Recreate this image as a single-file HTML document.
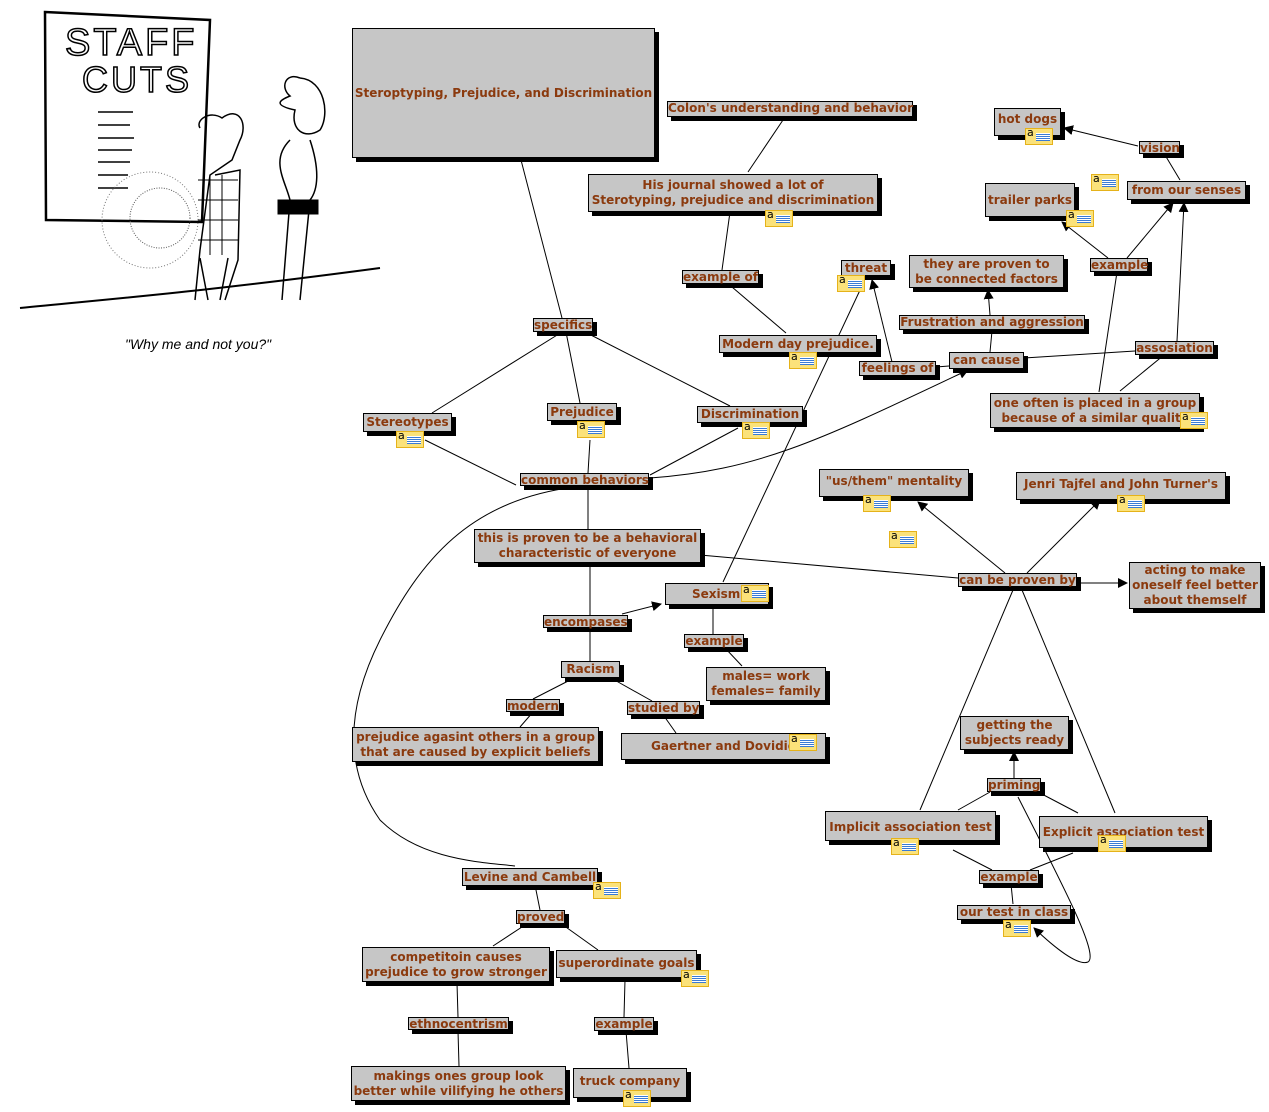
<!DOCTYPE html>
<html><head><meta charset="utf-8">
<style>
body{margin:0;width:1269px;height:1112px;background:#fff;position:relative;overflow:hidden;font-family:"DejaVu Sans","Liberation Sans",sans-serif;}
.n{position:absolute;box-sizing:border-box;background:#c6c6c6;border:1px solid #000;box-shadow:4px 4px 0 #000;color:#8b3a0e;font-weight:bold;font-size:12px;line-height:15px;text-align:center;display:flex;align-items:center;justify-content:center;white-space:nowrap;}
.l{position:absolute;box-sizing:border-box;background:#c6c6c6;border:1px solid #000;box-shadow:4px 4px 0 #000;color:#8b3a0e;font-weight:bold;font-size:12px;line-height:12px;text-align:center;white-space:nowrap;overflow:visible;}
.i{position:absolute;width:28px;height:17px;box-sizing:border-box;background:#fbe27a;border:1px solid #e5b21a;}
.i:before{content:"a";position:absolute;left:1px;top:-3px;font:11px "DejaVu Sans",sans-serif;color:#000;}
.i:after{content:"";position:absolute;left:10px;top:4px;width:14px;height:8px;background:repeating-linear-gradient(#fff 0 1px,#3a7bd5 1px 2px);}
svg{position:absolute;left:0;top:0;}
</style></head><body>
<svg width="1269" height="1112">
<defs><marker id="a" markerWidth="10" markerHeight="10" refX="9" refY="5" orient="auto" markerUnits="userSpaceOnUse"><path d="M0,0 L10,5 L0,10z" fill="#000"/></marker></defs>
<g stroke="#000" stroke-width="1" fill="none">
<path d="M45,12 L210,20 L202,222 L46,220 Z" stroke-width="2.5"/>
<path d="M20,308 C120,298 200,292 380,268" stroke-width="2"/>
<path d="M98,112h35M98,125h32M98,138h36M98,150h34M98,162h32M98,175h30M98,188h30" stroke-width="1.5"/>
<circle cx="150" cy="220" r="48" stroke="#777" stroke-dasharray="1 2"/>
<circle cx="160" cy="218" r="30" stroke="#555" stroke-dasharray="1 1.5"/>
<path d="M200,128 C195,120 210,110 222,118 C240,105 248,125 240,140 L232,160 L210,175 L200,250 L195,300 M215,175 L240,170 L238,260 L225,300 M208,300 L200,258 M220,300 L228,258" stroke-width="1.5"/>
<path d="M198,180h40M198,200h40M198,220h40M198,240h40M210,175v80M222,175v80" stroke-width="1"/>
<path d="M300,78 C285,72 280,88 290,96 C280,100 272,105 295,110 C290,130 305,140 320,130 C330,115 325,80 300,78 M290,140 C270,160 285,180 290,200 L282,300 M310,140 C320,170 318,190 310,200 L300,300" stroke-width="1.5"/>
<rect x="278" y="200" width="40" height="14" fill="#000"/>
<path d="M521,160L562,318M783,120L748,172M730,212L722,270M732,287L786,333M562,332L432,413M566,332L580,403M585,332L730,406M425,440L516,485M590,440L588,473M738,428L650,475M588,487L588,529"/>
<path d="M650,478 C760,470 820,440 968,370" marker-end="url(#a)"/>
<path d="M575,487 C470,500 420,560 380,640 C345,710 345,770 380,820 C420,860 480,862 515,866"/>
<path d="M700,555L958,578M590,562L590,615M590,628L590,661M713,605L713,634M726,649L742,666M574,678L533,699M611,678L652,701M533,712L520,727M664,716L676,733"/>
<path d="M622,614L661,604" marker-end="url(#a)"/>
<path d="M723,582L861,288"/>
<path d="M892,362L872,280" marker-end="url(#a)"/>
<path d="M936,367L949,366M990,352L992,331M1024,358L1135,351M1164,355L1120,391M1099,392L1117,272M1180,180L1165,155"/>
<path d="M990,315L988,290" marker-end="url(#a)"/>
<path d="M1177,341L1184,203" marker-end="url(#a)"/>
<path d="M1108,258L1062,222" marker-end="url(#a)"/>
<path d="M1127,258L1173,203" marker-end="url(#a)"/>
<path d="M1138,146L1064,128" marker-end="url(#a)"/>
<path d="M1005,573L918,502" marker-end="url(#a)"/>
<path d="M1027,573L1100,500" marker-end="url(#a)"/>
<path d="M1077,583L1127,583" marker-end="url(#a)"/>
<path d="M1013,590L920,810M1022,590L1115,813M990,792L958,810M1038,792L1078,813M953,850L992,870M1073,853L1030,870M1011,884L1013,904"/>
<path d="M1014,778L1014,752" marker-end="url(#a)"/>
<path d="M1018,797 C1060,880 1100,955 1088,962 C1078,966 1055,948 1034,928" marker-end="url(#a)"/>
<path d="M535,885L540,910M525,925L493,946M563,925L598,950M457,983L458,1017M458,1031L459,1066M625,980L624,1017M626,1031L629,1068"/>
</g>
<text x="65" y="55" font-family="Liberation Sans" font-size="38" fill="none" stroke="#000" stroke-width="1.5" letter-spacing="3">STAFF</text>
<text x="82" y="92" font-family="Liberation Sans" font-size="36" fill="none" stroke="#000" stroke-width="1.5" letter-spacing="3">CUTS</text>
<text x="125" y="349" font-family="Liberation Sans" font-style="italic" font-size="14" fill="#000">"Why me and not you?"</text>
</svg>

<div class="n" style="left:352px;top:28px;width:303px;height:130px;">Steroptyping, Prejudice, and Discrimination</div>
<div class="l" style="left:667px;top:101px;width:246px;height:16px;">Colon's understanding and behavior</div>
<div class="n" style="left:588px;top:174px;width:290px;height:38px;">His journal showed a lot of<br>Sterotyping, prejudice and discrimination</div>
<div class="l" style="left:682px;top:270px;width:77px;height:14px;">example of</div>
<div class="n" style="left:719px;top:335px;width:158px;height:18px;">Modern day prejudice.</div>
<div class="n" style="left:841px;top:260px;width:50px;height:16px;">threat</div>
<div class="n" style="left:909px;top:255px;width:155px;height:33px;">they are proven to<br>be connected factors</div>
<div class="l" style="left:899px;top:315px;width:186px;height:15px;">Frustration and aggression</div>
<div class="n" style="left:949px;top:352px;width:75px;height:17px;">can cause</div>
<div class="l" style="left:859px;top:361px;width:77px;height:15px;">feelings of</div>
<div class="n" style="left:994px;top:108px;width:67px;height:28px;align-items:flex-start;padding-top:3px;">hot dogs</div>
<div class="l" style="left:1139px;top:141px;width:41px;height:13px;">vision</div>
<div class="n" style="left:1127px;top:181px;width:119px;height:19px;">from our senses</div>
<div class="n" style="left:985px;top:183px;width:90px;height:34px;">trailer parks</div>
<div class="l" style="left:1090px;top:258px;width:58px;height:14px;">example</div>
<div class="l" style="left:1135px;top:341px;width:79px;height:14px;">assosiation</div>
<div class="n" style="left:990px;top:393px;width:210px;height:35px;">one often is placed in a group<br>because of a similar quality</div>
<div class="l" style="left:533px;top:318px;width:60px;height:14px;">specifics</div>
<div class="n" style="left:363px;top:413px;width:89px;height:19px;">Stereotypes</div>
<div class="n" style="left:547px;top:403px;width:70px;height:18px;">Prejudice</div>
<div class="n" style="left:697px;top:406px;width:106px;height:17px;">Discrimination</div>
<div class="l" style="left:520px;top:473px;width:129px;height:13px;">common behaviors</div>
<div class="n" style="left:474px;top:529px;width:227px;height:34px;">this is proven to be a behavioral<br>characteristic of everyone</div>
<div class="n" style="left:665px;top:583px;width:104px;height:22px;justify-content:flex-start;padding-left:26px;">Sexism</div>
<div class="l" style="left:543px;top:615px;width:85px;height:13px;">encompases</div>
<div class="l" style="left:684px;top:634px;width:60px;height:14px;">example</div>
<div class="n" style="left:706px;top:667px;width:120px;height:34px;">males= work<br>females= family</div>
<div class="n" style="left:561px;top:661px;width:59px;height:17px;">Racism</div>
<div class="l" style="left:506px;top:699px;width:54px;height:13px;">modern</div>
<div class="l" style="left:627px;top:701px;width:73px;height:14px;">studied by</div>
<div class="n" style="left:352px;top:727px;width:247px;height:35px;">prejudice agasint others in a group<br>that are caused by explicit beliefs</div>
<div class="n" style="left:621px;top:733px;width:205px;height:27px;justify-content:flex-start;padding-left:29px;">Gaertner and Dovidio</div>
<div class="n" style="left:819px;top:469px;width:150px;height:28px;align-items:flex-start;padding-top:4px;">"us/them" mentality</div>
<div class="n" style="left:1016px;top:472px;width:210px;height:28px;align-items:flex-start;padding-top:4px;">Jenri Tajfel and John Turner's</div>
<div class="l" style="left:958px;top:573px;width:119px;height:14px;">can be proven by</div>
<div class="n" style="left:1129px;top:562px;width:132px;height:47px;">acting to make<br>oneself feel better<br>about themself</div>
<div class="n" style="left:960px;top:716px;width:109px;height:34px;">getting the<br>subjects ready</div>
<div class="l" style="left:987px;top:778px;width:54px;height:14px;">priming</div>
<div class="n" style="left:825px;top:811px;width:171px;height:30px;align-items:flex-start;padding-top:8px;">Implicit association test</div>
<div class="n" style="left:1039px;top:816px;width:169px;height:32px;">Explicit association test</div>
<div class="l" style="left:979px;top:870px;width:60px;height:14px;">example</div>
<div class="l" style="left:957px;top:905px;width:114px;height:15px;">our test in class</div>
<div class="n" style="left:462px;top:868px;width:136px;height:18px;">Levine and Cambell</div>
<div class="l" style="left:516px;top:910px;width:49px;height:14px;">proved</div>
<div class="n" style="left:362px;top:947px;width:188px;height:35px;">competitoin causes<br>prejudice to grow stronger</div>
<div class="n" style="left:556px;top:950px;width:141px;height:28px;align-items:flex-start;padding-top:5px;">superordinate goals</div>
<div class="l" style="left:408px;top:1017px;width:101px;height:13px;">ethnocentrism</div>
<div class="l" style="left:594px;top:1017px;width:60px;height:14px;">example</div>
<div class="n" style="left:351px;top:1066px;width:215px;height:35px;">makings ones group look<br>better while vilifying he others</div>
<div class="n" style="left:573px;top:1068px;width:114px;height:30px;align-items:flex-start;padding-top:5px;">truck company</div>

<div class="i" style="left:765px;top:210px"></div>
<div class="i" style="left:789px;top:352px"></div>
<div class="i" style="left:837px;top:275px"></div>
<div class="i" style="left:1025px;top:128px"></div>
<div class="i" style="left:1091px;top:174px"></div>
<div class="i" style="left:1066px;top:210px"></div>
<div class="i" style="left:1180px;top:412px"></div>
<div class="i" style="left:396px;top:431px"></div>
<div class="i" style="left:577px;top:421px"></div>
<div class="i" style="left:742px;top:422px"></div>
<div class="i" style="left:863px;top:495px"></div>
<div class="i" style="left:889px;top:531px"></div>
<div class="i" style="left:1117px;top:495px"></div>
<div class="i" style="left:741px;top:585px"></div>
<div class="i" style="left:789px;top:734px"></div>
<div class="i" style="left:891px;top:838px"></div>
<div class="i" style="left:1098px;top:835px"></div>
<div class="i" style="left:1003px;top:920px"></div>
<div class="i" style="left:593px;top:882px"></div>
<div class="i" style="left:681px;top:970px"></div>
<div class="i" style="left:623px;top:1090px"></div>
</body></html>
